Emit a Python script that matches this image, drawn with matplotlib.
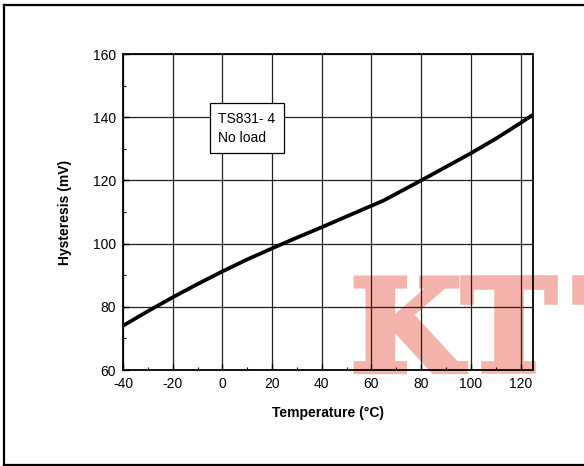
#!/usr/bin/env python3
"""TS831-4 hysteresis vs temperature, no load."""

import matplotlib

matplotlib.use("Agg")
import matplotlib.pyplot as plt
import matplotlib.patheffects as pe
from matplotlib.lines import Line2D
from matplotlib.ticker import MultipleLocator

# curve
temp_c = [-40, -30, -20, -10, 0, 10, 20, 30, 40, 50, 60, 65, 70, 80, 90, 100, 110, 120, 125]
hyst_mv = [74.0, 78.6, 83.0, 87.2, 91.2, 95.0, 98.5, 101.9, 105.2, 108.6, 112.0, 113.7, 115.8, 120.0, 124.3, 128.6, 133.2, 138.2, 140.8]

x_ticks = [-40, -20, 0, 20, 40, 60, 80, 100, 120]
y_ticks = [60, 80, 100, 120, 140, 160]

plt.rcParams.update(
    {
        "font.family": ["Liberation Sans", "DejaVu Sans"],
        "font.size": 10,
        "axes.linewidth": 1.3,
        "axes.unicode_minus": False,
        "xtick.direction": "in",
        "ytick.direction": "in",
    }
)

fig = plt.figure(figsize=(5.84, 4.66), dpi=100)
ax = fig.add_axes([0.2106, 0.206, 0.7021, 0.678])
ax.set_facecolor("none")

ax.plot(temp_c, hyst_mv, color="black", lw=2.7, solid_capstyle="butt", zorder=3)

ax.set_xlim(-40, 125)
ax.set_ylim(60, 160)
ax.set_xticks(x_ticks)
ax.set_yticks(y_ticks)
ax.xaxis.set_minor_locator(MultipleLocator(10))
ax.yaxis.set_minor_locator(MultipleLocator(10))
ax.tick_params(which="major", length=4, width=1.0, pad=5)
ax.tick_params(which="minor", length=2, width=0.8)
ax.grid(True, which="major", color="#202020", lw=0.9)

ax.set_xlabel("Temperature (°C)", fontweight="bold", labelpad=11)
ax.set_ylabel("Hysteresis (mV)", fontweight="bold", labelpad=15)

ax.text(
    -1.6,
    141.8,
    "TS831- 4\nNo load",
    ha="left",
    va="top",
    linespacing=1.5,
    zorder=4,
    bbox={"boxstyle": "square,pad=0.6", "facecolor": "white", "edgecolor": "black", "lw": 0.9},
)

# watermark behind the grid
for letter, xpos in zip("KTT", [0.600, 0.790, 0.982]):
    fig.text(
        xpos,
        0.203,
        letter,
        fontsize=92,
        fontweight="bold",
        family="DejaVu Serif",
        color="#f4b3ab",
        ha="left",
        va="baseline",
        zorder=-1,
        path_effects=[pe.withStroke(linewidth=4, foreground="#f4b3ab", joinstyle="miter")],
    )

# page frame (open on the right)
frame = dict(color="black", lw=1.6, transform=fig.transFigure)
fig.add_artist(Line2D([0.006, 1.0], [0.990, 0.990], **frame))
fig.add_artist(Line2D([0.006, 0.006], [0.003, 0.990], **frame))
fig.add_artist(Line2D([0.006, 1.0], [0.003, 0.003], **frame))

fig.savefig("out.png", dpi=100)
